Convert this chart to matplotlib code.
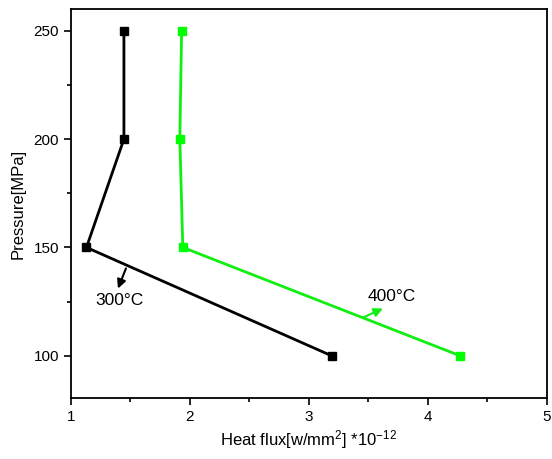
import matplotlib
matplotlib.use("Agg")
import matplotlib.pyplot as plt
from matplotlib.ticker import MultipleLocator

plt.rcParams['font.family'] = ['Liberation Sans', 'DejaVu Sans']
plt.rcParams['mathtext.default'] = 'regular'

pressure = [100, 150, 200, 250]
flux_300 = [3.19, 1.13, 1.445, 1.445]
flux_400 = [4.27, 1.94, 1.915, 1.93]

fig = plt.figure(figsize=(5.52, 4.59), dpi=100)
ax = fig.add_axes([0.1286, 0.133, 0.862, 0.847])

ax.plot(flux_300, pressure, color='black', lw=2.0, marker='s', ms=5.5, zorder=3)
ax.plot(flux_400, pressure, color='#11ee11', lw=2.0, marker='s', ms=5.5,
        mfc='#00ff00', mec='#00ff00', zorder=3)

# arrows drawn from line to text
ax.annotate('', xy=(1.395, 131.0), xytext=(1.462, 140.3),
            arrowprops=dict(arrowstyle='-|>', color='black', lw=1.5, mutation_scale=13,
                            shrinkA=0, shrinkB=0))
ax.text(1.41, 125.5, '300°C', fontsize=12.5, ha='center', va='center')
ax.annotate('', xy=(3.622, 121.8), xytext=(3.454, 117.6),
            arrowprops=dict(arrowstyle='-|>', color='#11ee11', lw=1.5, mutation_scale=13,
                            shrinkA=0, shrinkB=0))
ax.text(3.70, 127.3, '400°C', fontsize=12.5, ha='center', va='center')

ax.set_xlim(1, 5)
ax.set_ylim(80.5, 260)
ax.xaxis.set_major_locator(MultipleLocator(1))
ax.xaxis.set_minor_locator(MultipleLocator(0.5))
ax.yaxis.set_minor_locator(MultipleLocator(25))
ax.set_yticks([100, 150, 200, 250])
ax.tick_params(which='major', direction='out', length=5, width=1.2, labelsize=11)
ax.tick_params(which='minor', direction='out', length=3, width=1.2)
for s in ax.spines.values():
    s.set_linewidth(1.3)

ax.set_xlabel('Heat flux[w/mm$^2$] *10$^{-12}$', fontsize=12, labelpad=3)
ax.set_ylabel('Pressure[MPa]', fontsize=12, labelpad=6)

fig.savefig('out.png', dpi=100)
